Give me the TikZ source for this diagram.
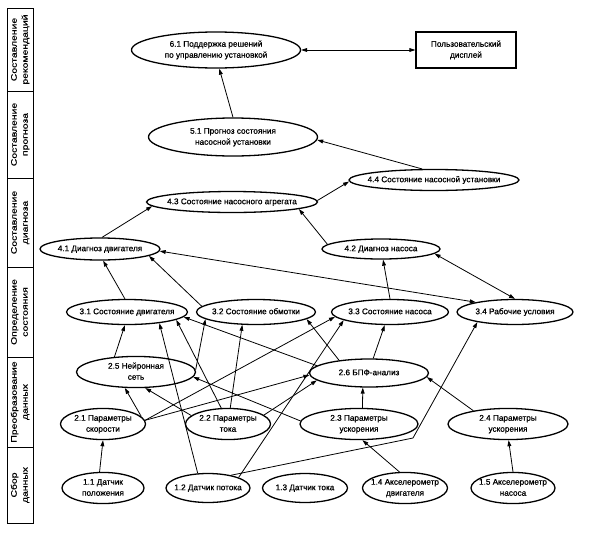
\documentclass[tikz,border=0pt]{standalone}
\usepackage{fontspec}
\setmainfont{Liberation Sans}
\newfontfamily\diafont{Liberation Sans}[FakeBold=0.9]
\newfontfamily\lanefont{Liberation Sans}[FakeBold=0.4]
\usetikzlibrary{shapes.geometric,arrows.meta}
\newcommand\zw[1]{\makebox[0pt]{\begin{tabular}{@{}c@{}}#1\end{tabular}}}
\newcommand\lanetext[1]{\scalebox{1.3}[1]{\begin{tabular}{@{}c@{}}#1\end{tabular}}}
\tikzset{
  proc/.style={draw, ellipse, line width=1.3pt, inner sep=0pt, font=\diafont\fontsize{8.2}{11}\selectfont},
  dispbox/.style={draw, rectangle, line width=1.3pt, inner sep=0pt, minimum width=100pt, minimum height=36pt, align=center, font=\diafont\fontsize{8.2}{11}\selectfont},
  lane/.style={rotate=90, inner sep=0pt, font=\lanefont\fontsize{8}{11}\selectfont},
  arr/.style={-{Triangle[length=6pt,width=3.8pt]}, line width=0.8pt},
  darr/.style={{Triangle[length=6pt,width=3.8pt]}-{Triangle[length=6pt,width=3.8pt]}, line width=0.8pt},
}
\begin{document}
\begin{tikzpicture}[x=1pt,y=-1pt]
\useasboundingbox (0,0) rectangle (605,536);
% lane column
\draw[line width=1pt] (7,8) rectangle (33,523);
\foreach \yy in {91,178,267,357,447} \draw[line width=1pt] (7,\yy) -- (33,\yy);
\node[lane] (l1) at (20,49.5) {\lanetext{Составление\\рекомендаций}};
\node[lane] (l2) at (20,134.5) {\lanetext{Составление\\прогноза}};
\node[lane] (l3) at (20,222.5) {\lanetext{Составление\\диагноза}};
\node[lane] (l4) at (20,312) {\lanetext{Определение\\состояния}};
\node[lane] (l5) at (20,402) {\lanetext{Преобразование\\данных}};
\node[lane] (l6) at (20,485) {\lanetext{Сбор\\данных}};
% nodes
\node[proc, minimum width=169pt, minimum height=36pt] (n61) at (216,50) {\zw{6.1 Поддержка решений\\по управлению установкой}};
\node[dispbox] (disp) at (466,50) {Пользовательский\\дисплей};
\node[proc, minimum width=169pt, minimum height=38pt] (n51) at (233,137) {\zw{5.1 Прогноз состояния\\насосной установки}};
\node[proc, minimum width=170pt, minimum height=21pt] (n44) at (434,180) {\zw{4.4 Состояние насосной установки}};
\node[proc, minimum width=171pt, minimum height=21pt] (n43) at (232,202) {\zw{4.3 Состояние насосного агрегата}};
\node[proc, minimum width=120pt, minimum height=22pt] (n41) at (100,249) {\zw{4.1 Диагноз двигателя}};
\node[proc, minimum width=118pt, minimum height=20pt] (n42) at (381,249) {\zw{4.2 Диагноз насоса}};
\node[proc, minimum width=121pt, minimum height=25pt] (n31) at (127,312) {\zw{3.1 Состояние двигателя}};
\node[proc, minimum width=119pt, minimum height=25pt] (n32) at (256,312) {\zw{3.2 Состояние обмотки}};
\node[proc, minimum width=117pt, minimum height=25pt] (n33) at (390,312) {\zw{3.3 Состояние насоса}};
\node[proc, minimum width=116pt, minimum height=25pt] (n34) at (515,312) {\zw{3.4 Рабочие условия}};
\node[proc, minimum width=119pt, minimum height=26pt] (n25) at (136,372) {\zw{2.5 Нейронная\\сеть}};
\node[proc, minimum width=119pt, minimum height=28pt] (n26) at (369,373) {\zw{2.6 БПФ-анализ}};
\node[proc, minimum width=85pt, minimum height=28pt] (n21) at (103,424) {\zw{2.1 Параметры\\скорости}};
\node[proc, minimum width=85pt, minimum height=28pt] (n22) at (228,424) {\zw{2.2 Параметры\\тока}};
\node[proc, minimum width=118pt, minimum height=28pt] (n23) at (359,424) {\zw{2.3 Параметры\\ускорения}};
\node[proc, minimum width=120pt, minimum height=28pt] (n24) at (508,424) {\zw{2.4 Параметры\\ускорения}};
\node[proc, minimum width=82pt, minimum height=29pt] (n11) at (103,488) {\zw{1.1 Датчик\\положения}};
\node[proc, minimum width=84pt, minimum height=29pt] (n12) at (208,488) {\zw{1.2 Датчик потока}};
\node[proc, minimum width=85pt, minimum height=29pt] (n13) at (305,488) {\zw{1.3 Датчик тока}};
\node[proc, minimum width=85pt, minimum height=29pt] (n14) at (405,488) {\zw{1.4 Акселерометр\\двигателя}};
\node[proc, minimum width=84pt, minimum height=29pt] (n15) at (513,488) {\zw{1.5 Акселерометр\\насоса}};
\coordinate (b12) at (413,438);
% connectors
\draw[darr] (n61.east) -- (disp.west);
\draw[arr] (n51.90) -- (n61.-80);
\draw[arr] (n44.137) -- (n51.-2);
\draw[arr] (n43.1) -- (n44.181);
\draw[arr] (n41.80) -- (n43.183);
\draw[arr] (n42.175) -- (n43.-6);
\draw[arr] (n31.99) -- (n41.-75);
\draw[arr] (n32.174) -- (n41.-8);
\draw[arr] (n33.90) -- (n42.-79);
\draw[darr] (n34.90) -- (n42.-5);
\draw[darr] (n41.-2) -- (n34.166);
\draw[arr] (n25.145) -- (n31.-99);
\draw[arr] (n12.125) -- (n31.-19);
\draw[arr] (n22.113) -- (n31.-9);
\draw[arr] (n26.172) -- (n31.-5);
\draw[arr] (n25.2) -- (n32.188);
\draw[arr] (n22.82) -- (n32.223);
\draw[arr] (n26.157) -- (n32.-8);
\draw[arr] (n21.5) -- (n33.185);
\draw[arr] (n12.19) -- (n33.190);
\draw[arr] (n26.74) -- (n33.248);
\draw[arr] (n12.29) -- (b12) -- (n34.195);
\draw[arr] (n21.11) -- (n25.235);
\draw[arr] (n22.167) -- (n25.-60);
\draw[arr] (n23.177) -- (n25.-5);
\draw[arr] (n21.5) -- (n26.182);
\draw[arr] (n22.14) -- (n26.188);
\draw[arr] (n23.78) -- (n26.247);
\draw[arr] (n24.159) -- (n26.-4);
\draw[arr] (n11.102) -- (n21.-90);
\draw[arr] (n14.109) -- (n23.-78);
\draw[arr] (n15.90) -- (n24.-88);
\end{tikzpicture}
\end{document}
